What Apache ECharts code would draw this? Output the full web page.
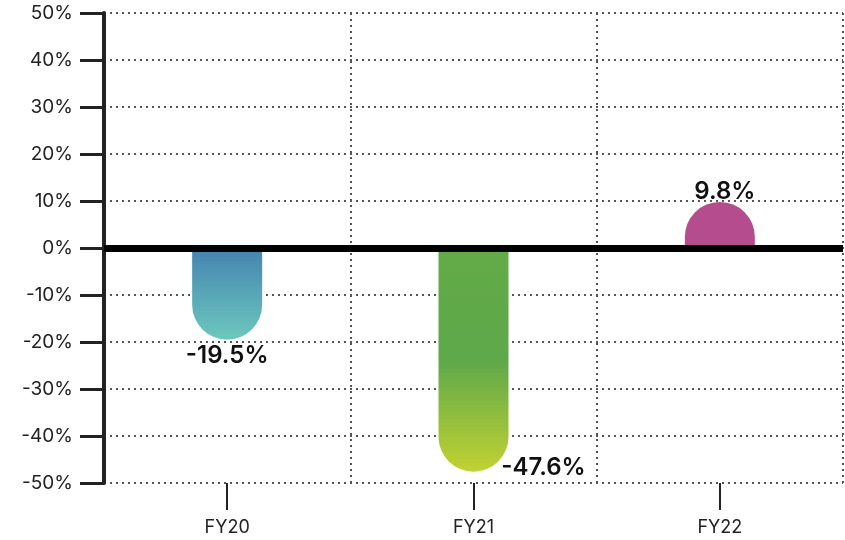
<!DOCTYPE html>
<html>
<head>
<meta charset="utf-8">
<script src="https://cdn.jsdelivr.net/npm/echarts@6/dist/echarts.min.js"></script>
<style>
  html, body { margin: 0; padding: 0; background: #fff; }
  #chart { width: 845px; height: 540px; }
</style>
</head>
<body>
<div id="chart"></div>
<script>
// Fiscal years and year-on-year change (%)
const categories = ['FY20', 'FY21', 'FY22'];
const changeValues = [-19.5, -47.6, 9.8];
const yTicks = { min: -50, max: 50, interval: 10 };

const FONT = 'Inter, "Noto Sans", sans-serif';

// colour ramps, top to bottom of each bar
const barGradients = [
  ['#4583b0', '#6cc8bd'],
  ['#63ab47', '#5ea84a', '#c2d232'],
  ['#b44c8d', '#b44c8d']
];

function gradient(stops) {
  return new echarts.graphic.LinearGradient(0, 0, 0, 1,
    stops.map((c, i) => ({ offset: i / (stops.length - 1), color: c })));
}

// per-bar label placement
const labelPlacement = [
  { position: 'bottom', distance: 4, offset: [0, 0] },
  { position: 'bottom', distance: 3, offset: [70, -19] },
  { position: 'top', distance: 1, offset: [5, 3] }
];

const barData = changeValues.map((v, i) => ({
  value: v,
  itemStyle: {
    color: gradient(barGradients[i]),
    borderRadius: v < 0 ? [0, 0, 35, 35] : [35, 35, 0, 0]
  },
  label: labelPlacement[i]
}));

const chart = echarts.init(document.getElementById('chart'));
chart.setOption({
  animation: false,
  grid: { left: 104, right: 2, top: 13, bottom: 57 },
  xAxis: {
    type: 'category',
    data: categories,
    boundaryGap: true,
    axisLine: { show: false, onZero: false },
    axisTick: { show: true, alignWithLabel: true, length: 27, lineStyle: { color: '#222', width: 2 } },
    axisLabel: { margin: 36, color: '#222', fontSize: 18, fontFamily: FONT },
    splitLine: { show: true, lineStyle: { type: [2, 4], color: '#555', width: 2 } }
  },
  yAxis: {
    type: 'value',
    min: yTicks.min,
    max: yTicks.max,
    interval: yTicks.interval,
    axisLine: { show: true, lineStyle: { color: '#222', width: 4 } },
    axisTick: { show: true, length: 24, lineStyle: { color: '#222', width: 3 } },
    axisLabel: { margin: 31, color: '#222', fontSize: 19, fontFamily: FONT, formatter: '{value}%' },
    splitLine: { show: true, lineStyle: { type: [2, 4], color: '#555', width: 2 } }
  },
  series: [{
    type: 'bar',
    barWidth: 70,
    data: barData,
    label: {
      show: true,
      fontSize: 24,
      fontWeight: 600,
      fontFamily: FONT,
      color: '#111',
      formatter: p => p.value + '%'
    },
    markLine: {
      silent: true,
      symbol: 'none',
      label: { show: false },
      lineStyle: { color: '#000', width: 7, type: 'solid' },
      data: [{ yAxis: 0 }]
    }
  }]
});
</script>
</body>
</html>
